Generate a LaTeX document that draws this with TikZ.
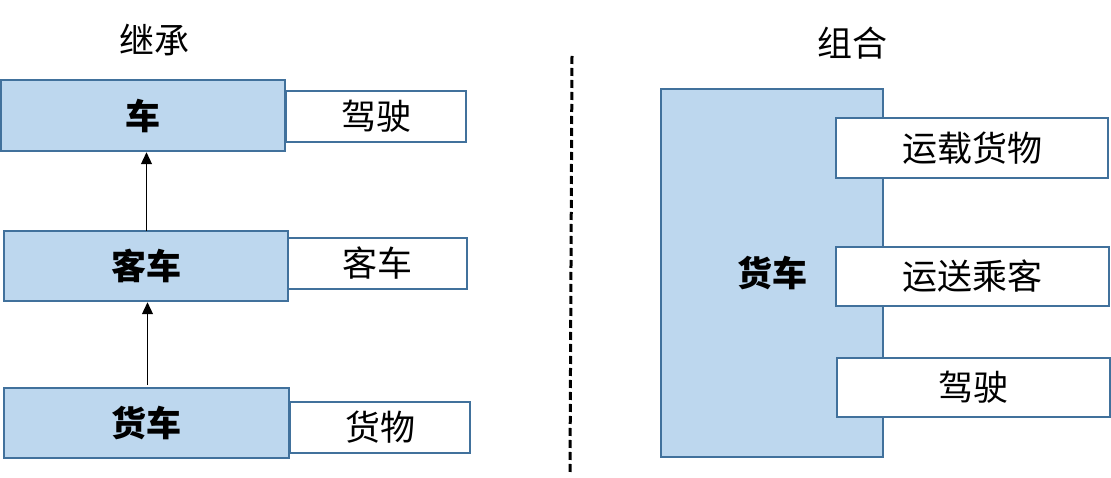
\documentclass[tikz,border=0pt]{standalone}
\usepackage{fontspec}
\newfontfamily\cjk{Noto Sans CJK SC}
\usetikzlibrary{arrows.meta}
\definecolor{boxfill}{HTML}{BDD7EE}
\definecolor{boxline}{HTML}{41719C}
\tikzset{
  px/.style={x=1pt,y=-1pt},
  bluebox/.style={draw=boxline,fill=boxfill,line width=2.5pt,inner sep=0pt,font=\cjk\bfseries\fontsize{35}{40}\selectfont},
  whitebox/.style={draw=boxline,fill=white,line width=2.5pt,inner sep=0pt,font=\cjk\fontsize{35}{40}\selectfont},
  titletext/.style={inner sep=0pt,font=\cjk\fontsize{35}{40}\selectfont},
  inherit/.style={line width=1.2pt,-{Triangle[width=11pt,length=12pt]}},
  divider/.style={line width=3pt,dash pattern=on 8pt off 4pt}
}
\begin{document}
\begin{tikzpicture}[px]
\useasboundingbox (0,0) rectangle (1111,478);
% left: inheritance
\node[titletext] (t1) at (154,40) {继承};
\node[bluebox,minimum width=284pt,minimum height=71pt] (car) at (143,115.5) {车};
\node[whitebox,minimum width=180pt,minimum height=51pt] (drive1) at (376,116.5) {驾驶};
\node[bluebox,minimum width=284pt,minimum height=70pt] (keche) at (146,266) {客车};
\node[whitebox,minimum width=179pt,minimum height=51pt] (keche2) at (377.5,263.5) {客车};
\node[bluebox,minimum width=285pt,minimum height=70pt] (huoche) at (146.5,423) {货车};
\node[whitebox,minimum width=180pt,minimum height=51pt] (huowu) at (380,427.5) {货物};
\coordinate (a1s) at (146.5,231);
\coordinate (a2s) at (147.5,385);
\draw[inherit] (a1s) -- (a1s |- car.south);
\draw[inherit] (a2s) -- (a2s |- keche.south);
% divider
\coordinate (d1) at (572,56);
\coordinate (d2) at (570,473);
\draw[divider] (d1) -- (d2);
% right: composition
\node[titletext] (t2) at (852,43) {组合};
\node[bluebox,minimum width=222pt,minimum height=368pt] (big) at (772,273) {货车};
\node[whitebox,minimum width=272pt,minimum height=60pt] (b1) at (972,148) {运载货物};
\node[whitebox,minimum width=273pt,minimum height=59pt] (b2) at (972.5,276.5) {运送乘客};
\node[whitebox,minimum width=273pt,minimum height=59pt] (b3) at (973.5,387.5) {驾驶};
\end{tikzpicture}
\end{document}
